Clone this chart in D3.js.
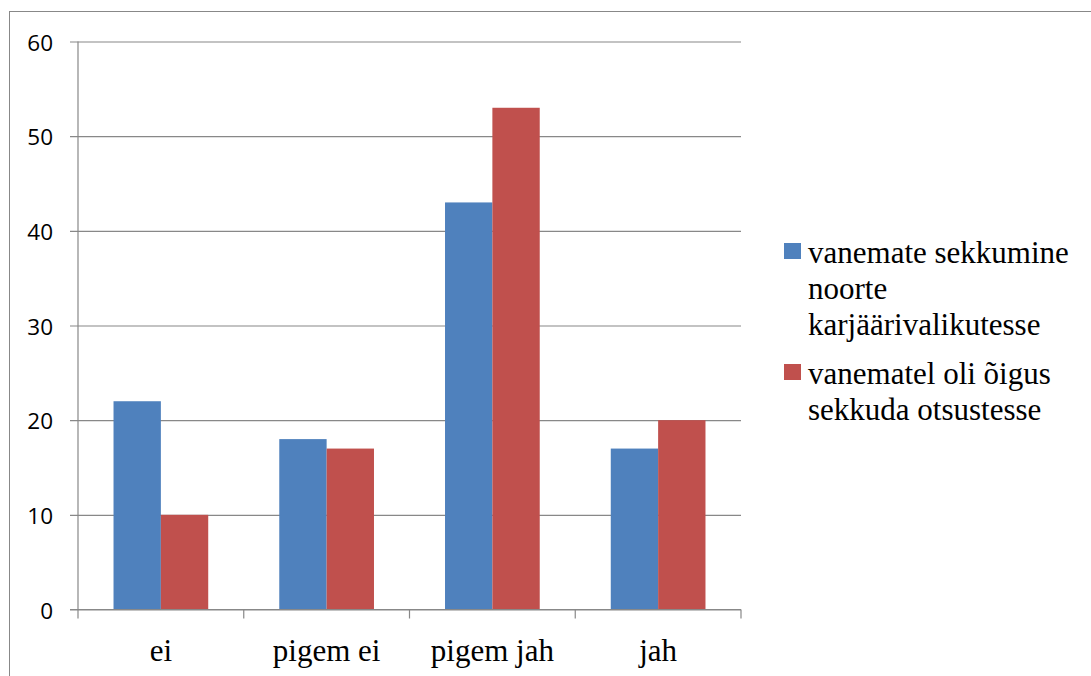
<!DOCTYPE html>
<html>
<head>
<meta charset="utf-8">
<script src="https://cdn.jsdelivr.net/npm/d3@7"></script>
<style>
  body { margin: 0; background: #fff; }
  #chart { width: 1091px; height: 676px; }
  .serif { font-family: "Liberation Serif", "Times New Roman", serif; font-size: 31px; fill: #000; }
</style>
</head>
<body>
<div id="chart"></div>
<script>
// data
const categories = ["ei", "pigem ei", "pigem jah", "jah"]
const seriesNames = ["vanemate sekkumine noorte karjäärivalikutesse", "vanematel oli õigus sekkuda otsustesse"]
const legendLines = [["vanemate sekkumine", "noorte", "karjäärivalikutesse"], ["vanematel oli õigus", "sekkuda otsustesse"]]
const interventionValues = [22, 18, 43, 17]
const rightValues = [10, 17, 53, 20]
const yTicks = [0, 10, 20, 30, 40, 50, 60]
const colors = ["#4F81BD", "#C0504D"]

const WIDTH = 1091, HEIGHT = 676
const LEFT = 78, RIGHT = 741, TOP = 41.5, BOTTOM = 609.5

const svg = d3.select("#chart").append("svg").attr("width", WIDTH).attr("height", HEIGHT)

// outer frame, cut off at right and bottom like the picture
svg.append("rect").attr("x", 9.5).attr("y", 11.5).attr("width", WIDTH).attr("height", HEIGHT)
    .attr("fill", "none").attr("stroke", "#888").attr("stroke-width", 1)

const x0 = d3.scaleBand().domain(categories).range([LEFT, RIGHT]).paddingInner(0).paddingOuter(0)
const x1 = d3.scaleBand().domain([0, 1]).range([0, x0.bandwidth()]).paddingInner(0).paddingOuter(0.75)
const y = d3.scaleLinear().domain([0, 60]).range([BOTTOM, TOP])

// grid lines + y labels
const gen_y = d3.axisLeft(y).tickValues(yTicks).tickSize(-(RIGHT - LEFT) - 8).tickPadding(0).tickFormat(d3.format("d"))
const yAxis = svg.append("g").attr("class", "y axis").attr("transform", "translate(" + (RIGHT) + ",0)").call(gen_y)
yAxis.select(".domain").remove()
yAxis.selectAll(".tick line").attr("x1", 0).attr("x2", -(RIGHT - LEFT) - 8).attr("stroke", "#888").attr("stroke-width", 1.2)
yAxis.selectAll(".tick text").attr("x", -(RIGHT - 53)).attr("dy", "0.38em").attr("text-anchor", "end")
    .style("font-family", "'Open Sans', sans-serif").style("font-size", "22.5px").attr("fill", "#000")

// y axis line
svg.append("line").attr("x1", LEFT).attr("x2", LEFT).attr("y1", TOP).attr("y2", BOTTOM)
    .attr("stroke", "#888").attr("stroke-width", 1.2)

// bars
const rows = categories.map((c, i) => ({cat: c, vals: [interventionValues[i], rightValues[i]]}))
const groups = svg.selectAll("g.group").data(rows).enter().append("g").attr("class", "group")
    .attr("transform", d => "translate(" + x0(d.cat) + ",0)")
groups.selectAll("rect").data(d => d.vals.map((v, s) => ({s: s, v: v}))).enter().append("rect")
    .attr("x", d => x1(d.s)).attr("width", x1.bandwidth())
    .attr("y", d => y(d.v)).attr("height", d => BOTTOM - y(d.v))
    .attr("fill", d => colors[d.s])

// x axis with ticks between categories
svg.append("line").attr("x1", LEFT - 8).attr("x2", RIGHT).attr("y1", BOTTOM).attr("y2", BOTTOM)
    .attr("stroke", "#888").attr("stroke-width", 1.2)
const bounds = categories.map(c => x0(c)).concat([RIGHT])
svg.selectAll("line.xtick").data(bounds).enter().append("line").attr("class", "xtick")
    .attr("x1", d => d).attr("x2", d => d).attr("y1", BOTTOM).attr("y2", BOTTOM + 9)
    .attr("stroke", "#888").attr("stroke-width", 1.2)
svg.selectAll("text.xlab").data(categories).enter().append("text").attr("class", "xlab serif")
    .attr("x", d => x0(d) + x0.bandwidth() / 2).attr("y", 661).attr("text-anchor", "middle")
    .text(d => d)

// legend
const legend = svg.append("g").attr("transform", "translate(784,0)")
const legendTop = [243, 364]
seriesNames.forEach((name, i) => {
    const row = legend.append("g").attr("transform", "translate(0," + legendTop[i] + ")")
    row.append("rect").attr("width", 17).attr("height", 16).attr("fill", colors[i])
    const txt = row.append("text").attr("class", "serif").attr("x", 24).attr("y", 20)
    legendLines[i].forEach((line, j) => {
        txt.append("tspan").attr("class", "serif").attr("x", 24).attr("dy", j == 0 ? 0 : 36).text(line)
    })
})
</script>
</body>
</html>
